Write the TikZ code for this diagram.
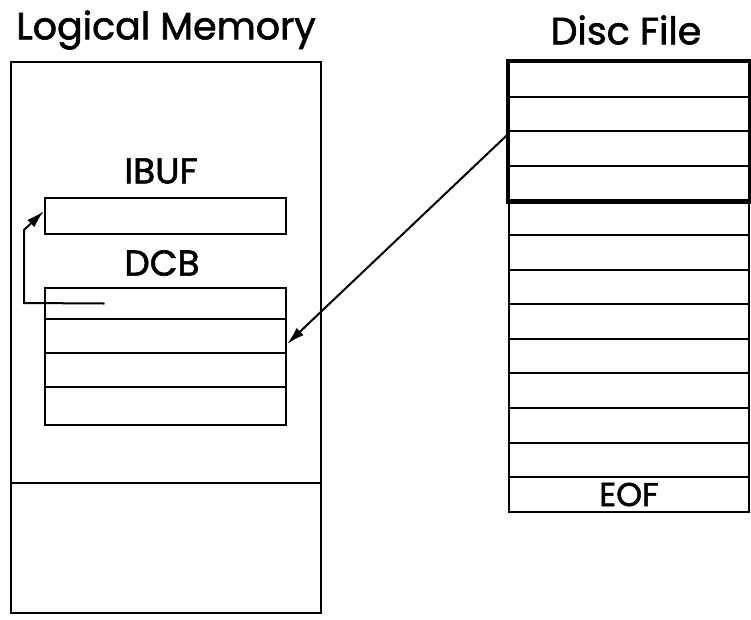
\documentclass[tikz,border=0pt]{standalone}
\usepackage{fontspec}
\setmainfont{Poppins}[FakeBold=1.6]
\usetikzlibrary{arrows.meta,calc}
\begin{document}
\begin{tikzpicture}[x=1pt,y=-1pt,
  thinline/.style={line width=2pt},
  thickline/.style={line width=4.5pt},
  rowbox/.style={draw,line width=2pt,anchor=north west,inner sep=0pt,minimum width=#1},
  title/.style={font=\fontsize{38}{40}\selectfont,inner sep=0pt},
  lbl/.style={font=\fontsize{36}{40}\selectfont,inner sep=0pt},
  arr/.style={line width=2pt,-{Latex[length=18pt,width=10pt]}}
]
\useasboundingbox (0,0) rectangle (751,619);
% titles
\node[title] (tlm) at (166,30) {Logical Memory};
\node[title] (tdf) at (626,30) {Disc File};
% logical memory
\node[draw,line width=2pt,anchor=north west,inner sep=0pt,minimum width=310pt,minimum height=551pt] (lm) at (10,61) {};
\draw[thinline] (lm.west |- 0,483) coordinate (dl) -- (lm.east |- 0,483) coordinate (dr);
% IBUF
\node[lbl] (libuf) at (161,171) {IBUF};
\node[rowbox=241pt,minimum height=36pt] (ibuf) at (44,197) {};
% DCB
\node[lbl] (ldcb) at (162,263) {DCB};
\foreach \i/\y/\h in {1/287/31,2/318/34,3/352/34,4/386/38}{
  \node[rowbox=241pt,minimum height=\h pt] (d\i) at (44,\y) {};
}
% disc file rows
\foreach \i in {1,...,13}{
  \node[rowbox=240pt,minimum height=34.6pt] (r\i) at (508,{61+(\i-1)*34.6}) {};
}
\node[lbl,font=\fontsize{33}{36}\selectfont] (eof) at (r13.center) {EOF};
\draw[thickline] (r1.north west) rectangle (r4.south east);
% arrows
\coordinate (s1) at ([xshift=-61pt]d1.center);
\coordinate (c1) at (24,303);
\coordinate (c2) at (24,230);
\draw[arr] (s1) -- (c1) -- (c2) -- ([yshift=5pt]ibuf.west);
\draw[arr] ([yshift=-4pt]r3.north west) -- ([yshift=-8pt]d2.east);
\end{tikzpicture}
\end{document}
